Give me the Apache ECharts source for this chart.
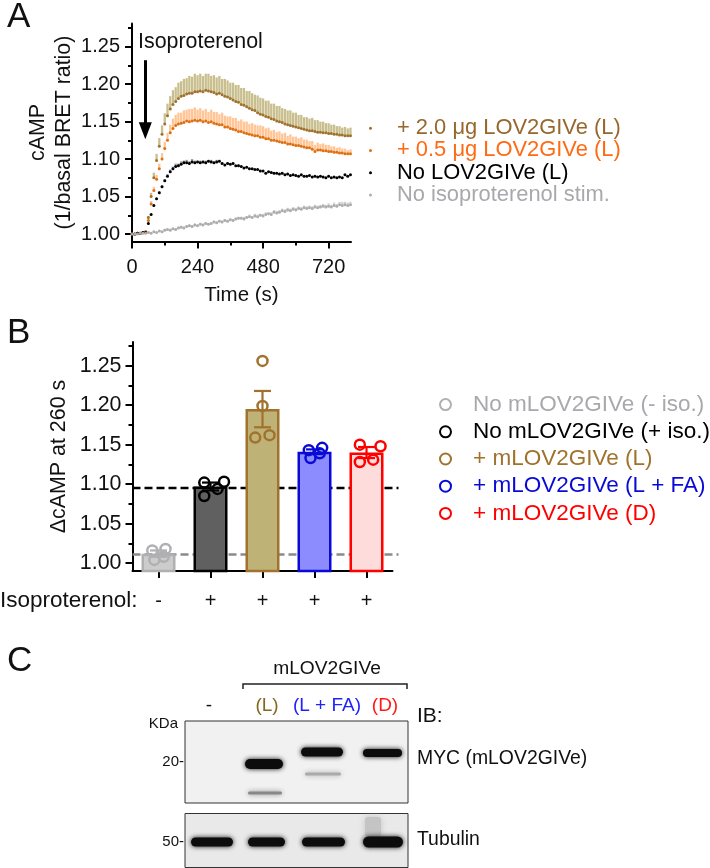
<!DOCTYPE html>
<html><head><meta charset="utf-8">
<style>html,body{margin:0;padding:0;background:#fff}#c{width:710px;height:868px}</style>
<script src="https://cdn.jsdelivr.net/npm/echarts@6/dist/echarts.min.js"></script></head>
<body><div id="c"></div>
<script>
const FONT='"Liberation Sans",Arial,sans-serif';
const times=[0,10,20,30,40,50,60,70,80,90,100,110,120,130,140,150,160,170,180,190,200,210,220,230,240,250,260,270,280,290,300,310,320,330,340,350,360,370,380,390,400,410,420,430,440,450,460,470,480,490,500,510,520,530,540,550,560,570,580,590,600,610,620,630,640,650,660,670,680,690,700,710,720,730,740,750,760,770,780,790,800];
const brownMean=[1.000,1.000,1.001,1.001,1.002,1.003,1.022,1.050,1.075,1.098,
1.117,1.133,1.147,1.158,1.167,1.173,1.177,1.181,1.184,1.185,
1.187,1.188,1.188,1.190,1.190,1.191,1.190,1.192,1.191,1.190,
1.189,1.187,1.188,1.186,1.184,1.183,1.181,1.179,1.177,1.176,
1.173,1.172,1.170,1.168,1.166,1.165,1.162,1.160,1.159,1.157,
1.156,1.154,1.153,1.151,1.150,1.149,1.147,1.146,1.145,1.144,
1.143,1.142,1.141,1.140,1.139,1.138,1.138,1.137,1.136,1.136,
1.135,1.135,1.134,1.134,1.133,1.133,1.132,1.132,1.131,1.131,1.131];
const brownErr=[0,0,0,0,0,0,.002,.005,.007,.009,
.011,.012,.014,.016,.017,.019,.019,.021,.020,.022,
.021,.023,.022,.024,.022,.023,.021,.022,.023,.021,
.023,.022,.023,.021,.023,.022,.021,.023,.022,.023,
.022,.023,.021,.023,.022,.021,.023,.022,.022,.021,
.022,.020,.021,.020,.021,.019,.020,.019,.020,.018,
.019,.017,.018,.016,.017,.016,.017,.015,.016,.014,
.015,.013,.014,.012,.013,.011,.012,.010,.012,.010,.011];
const orangeMean=[1.000,1.000,1.001,1.001,1.002,1.003,1.018,1.040,1.058,1.073,
1.087,1.100,1.114,1.125,1.135,1.141,1.145,1.147,1.148,1.149,
1.151,1.150,1.151,1.152,1.151,1.152,1.150,1.151,1.149,1.150,
1.148,1.147,1.146,1.146,1.143,1.143,1.141,1.140,1.139,1.137,
1.137,1.135,1.134,1.133,1.132,1.131,1.131,1.129,1.129,1.127,
1.127,1.125,1.125,1.124,1.123,1.122,1.122,1.120,1.120,1.119,
1.118,1.118,1.117,1.116,1.115,1.115,1.113,1.110,1.112,1.112,
1.111,1.111,1.110,1.110,1.109,1.109,1.108,1.108,1.107,1.107,1.107];
const orangeErr=[0,0,0,0,0,0,.002,.004,.005,.006,
.007,.008,.009,.010,.011,.013,.014,.015,.014,.016,
.015,.017,.016,.017,.015,.016,.015,.016,.014,.016,
.015,.016,.014,.016,.015,.014,.016,.015,.016,.014,
.016,.015,.016,.014,.016,.015,.014,.016,.015,.014,
.015,.013,.014,.012,.014,.012,.013,.011,.013,.011,
.012,.010,.012,.010,.011,.009,.011,.009,.010,.008,
.010,.008,.009,.007,.008,.006,.008,.006,.007,.005,.006];
const blackMean=[1.000,1.000,1.001,1.001,1.002,1.002,1.014,1.026,1.038,1.047,
1.055,1.063,1.071,1.077,1.083,1.087,1.090,1.091,1.093,1.095,
1.095,1.094,1.096,1.095,1.096,1.095,1.096,1.095,1.097,1.096,
1.095,1.096,1.097,1.094,1.092,1.094,1.093,1.094,1.091,1.091,
1.090,1.088,1.089,1.087,1.087,1.086,1.086,1.084,1.084,1.081,
1.083,1.082,1.081,1.081,1.080,1.081,1.079,1.080,1.078,1.079,
1.078,1.077,1.079,1.077,1.077,1.078,1.076,1.077,1.076,1.077,
1.076,1.075,1.077,1.075,1.076,1.075,1.076,1.075,1.079,1.077,1.079];
const blackErr=[0,0,0,0,0,0,0,.001,.001,.001,
.002,.002,.002,.003,.003,.003,.004,.003,.004,.003,
.004,.003,.004,.003,.002,.003,.002,.003,.002,.003,
.002,.003,.002,.002,.001,.002,.001,.002,.001,.002,
.001,.001,.001,.001,.001,.001,.001,.001,.001,.001,
.001,.001,.001,.001,.001,.001,.001,.001,.001,.001,
.001,.001,.001,.001,.001,.001,.001,.001,.001,.001,
.001,.001,.001,.001,.001,.001,.001,.001,.001,.001,.001];
const grayMean=[1.000,1.000,1.000,1.001,1.001,1.001,1.002,1.001,1.003,1.002,
1.004,1.003,1.005,1.006,1.005,1.007,1.006,1.008,1.009,1.008,
1.010,1.011,1.010,1.012,1.011,1.013,1.012,1.014,1.013,1.014,
1.016,1.015,1.017,1.016,1.018,1.017,1.019,1.018,1.020,1.021,
1.021,1.020,1.022,1.023,1.022,1.024,1.023,1.025,1.024,1.026,
1.027,1.026,1.029,1.028,1.029,1.031,1.030,1.032,1.031,1.033,
1.032,1.034,1.033,1.035,1.034,1.035,1.034,1.036,1.035,1.036,
1.037,1.036,1.037,1.036,1.038,1.037,1.039,1.038,1.039,1.038,1.039];
const grayErr=[0,0,0,.001,.001,.001,.001,.001,.001,.001,
.001,.001,.002,.001,.002,.001,.002,.002,.002,.002,
.002,.002,.002,.002,.002,.002,.002,.002,.002,.002,
.002,.002,.002,.002,.002,.002,.002,.002,.002,.002,
.002,.003,.002,.003,.002,.003,.003,.002,.003,.003,
.002,.003,.003,.003,.003,.003,.003,.003,.003,.003,
.003,.003,.003,.003,.003,.003,.003,.003,.003,.003,
.003,.003,.004,.003,.004,.003,.004,.005,.004,.004,.004];
const namesA=['+ 2.0 \u03bcg LOV2GIVe (L)','+ 0.5 \u03bcg LOV2GIVe (L)','No LOV2GIVe (L)','No isoproterenol stim.'];
const yTicks=[1.00,1.05,1.10,1.15,1.20,1.25];
const yMinorTicks=[1.025,1.075,1.125,1.175,1.225,1.275];
const xTicksA=[0,240,480,720];
const xMinorA=[120,360,600];

const categoriesB=['-','+','+','+','+'];
const namesB=['No mLOV2GIVe (- iso.)','No mLOV2GIVe (+ iso.)','+ mLOV2GIVe (L)','+ mLOV2GIVe (L + FA)','+ mLOV2GIVe (D)'];
const barMeans=[1.012,1.097,1.195,1.141,1.140];
const barErrs=[0.004,0.005,0.023,0.003,0.007];
const replicates=[[1.016,1.018,1.004,1.008],[1.102,1.103,1.085,1.094],[1.256,1.199,1.159,1.162],[1.143,1.146,1.133,1.139],[1.150,1.148,1.128,1.131]];
const jitter=[[-.12,.135,-.08,.10],[-.12,.26,-.12,.135],[0,0,-.14,.135],[-.11,.147,-.077,.10],[-.128,.27,-.128,.128]];
const refLines=[1.095,1.011];

const errColA=['#c9bf8e','#ffc596','#9a9a9a','#d4d4d4'];
const dotColA=['#a0722d','#dd7012','#000000','#adadad'];
const legColA=['#96682c','#ff6a13','#000000','#a9a9ad'];
const borderB=['#b0b0b3','#000000','#a0722d','#0a0ad6','#ff0000'];
const fillB=['#cccccc','#606060','#bfb277','#8c8cff','#ffdcdc'];
const legColB=['#a9a9ad','#000000','#a0722d','#0a0ad6','#ff0000'];
const refCol=['#000000','#8a8a8a'];

function errSeriesA(means,errs,col){
  return {type:'custom',xAxisIndex:0,yAxisIndex:0,z:2,silent:true,
    data:times.map((t,i)=>[t,means[i],means[i]+errs[i]]),
    encode:{x:0,y:[1,2]},
    renderItem(p,api){const a=api.coord([api.value(0),api.value(1)]),b=api.coord([api.value(0),api.value(2)]);
      return {type:'line',shape:{x1:a[0],y1:a[1],x2:b[0],y2:b[1]},style:{stroke:col,lineWidth:2.3}};}};
}
const seriesA=[];
[[brownMean,brownErr],[orangeMean,orangeErr],[blackMean,blackErr],[grayMean,grayErr]].forEach((d,i)=>{
  seriesA.push(errSeriesA(d[0],d[1],errColA[i]));
});
[0,1,2,3].forEach(i=>{
  const m=[brownMean,orangeMean,blackMean,grayMean][i];
  seriesA.push({type:'scatter',name:namesA[i],xAxisIndex:0,yAxisIndex:0,z:3,symbol:'circle',symbolSize:3,
    itemStyle:{color:dotColA[i],opacity:1},data:times.map((t,k)=>[t,m[k]])});
});
seriesA.push({type:'scatter',xAxisIndex:0,yAxisIndex:0,data:[],silent:true,
  markLine:{silent:true,animation:false,symbol:['none','triangle'],symbolSize:[13,17],label:{show:false},
    lineStyle:{color:'#000',width:3,type:'solid'},
    data:[[{coord:[48.7,1.232]},{coord:[48.7,1.138]}]]}});

const seriesB=[
 ...refLines.map((v,i)=>({type:'line',xAxisIndex:4,yAxisIndex:4,z:1,silent:true,showSymbol:false,
   lineStyle:{color:refCol[i],width:2.5,type:[8,4]},data:[[0,v],[1,v]]})),
 {type:'bar',xAxisIndex:2,yAxisIndex:2,z:2,barWidth:34,silent:true,
  data:barMeans.map((v,i)=>({value:v,itemStyle:{color:fillB[i],borderColor:borderB[i],borderWidth:2.5}}))},
 {type:'custom',xAxisIndex:3,yAxisIndex:2,z:3,silent:true,
  data:barMeans.map((v,i)=>[i+.5,v-barErrs[i],v+barErrs[i],i]),encode:{x:0,y:[1,2]},
  renderItem(p,api){const x=api.value(0),col=borderB[api.value(3)],a=api.coord([x,api.value(1)]),b=api.coord([x,api.value(2)]),w=8.5;
    const st={stroke:col,lineWidth:2.2};
    return {type:'group',children:[
     {type:'line',shape:{x1:a[0],y1:a[1],x2:b[0],y2:b[1]},style:st},
     {type:'line',shape:{x1:a[0]-w,y1:a[1],x2:a[0]+w,y2:a[1]},style:st},
     {type:'line',shape:{x1:b[0]-w,y1:b[1],x2:b[0]+w,y2:b[1]},style:st}]};}}
];
namesB.forEach((n,i)=>seriesB.push({type:'scatter',name:n,xAxisIndex:3,yAxisIndex:2,z:4,symbol:'circle',symbolSize:10,silent:true,
  itemStyle:{color:'rgba(0,0,0,0)',borderColor:borderB[i],borderWidth:2.5,opacity:1},
  data:replicates[i].map((v,k)=>[i+.5+jitter[i][k],v])}));

const axLine={show:true,onZero:false,lineStyle:{color:'#000',width:2}};
const tickStyle=(len)=>({length:len,lineStyle:{color:'#000',width:2}});
function yMain(gridIndex,fs,nameTxt,gap,min,max,margin){return {type:'value',gridIndex,min,max,position:'left',name:nameTxt,nameLocation:'middle',nameRotate:90,nameGap:gap,
  nameTextStyle:{fontFamily:FONT,fontSize:21.4,color:'#111',lineHeight:26},splitLine:{show:false},axisLine:axLine,
  axisTick:Object.assign({show:true,customValues:yTicks},tickStyle(7)),
  axisLabel:{customValues:yTicks,margin,fontFamily:FONT,fontSize:fs,color:'#111',formatter:v=>v.toFixed(2)}};}
function yMinor(gridIndex,min,max){return {type:'value',gridIndex,min,max,position:'left',splitLine:{show:false},axisLine:{show:false},
  axisTick:Object.assign({show:true,customValues:yMinorTicks},tickStyle(4)),axisLabel:{show:false}};}

const T=(text,x,y,fs,col,align,extra)=>({type:'text',x,y,silent:true,style:Object.assign({text,fill:col||'#111',font:`${fs}px ${FONT}`,textAlign:align||'left',textVerticalAlign:'middle'},extra||{})});
const R=(x,y,w,h,fill,blur,r)=>({type:'rect',silent:true,shape:{x,y,width:w,height:h,r:r==null?h/2:r},style:{fill,shadowBlur:blur||0,shadowColor:fill}});
const graphic=[
 T('A',7,17,35),T('B',7,333,35),T('C',7,661,35),
 T('Isoproterenol',138,42,21.4),
 T('Isoproterenol:',0,601,22.5),
 T('mLOV2GIVe',327,669,19.2,'#111','center'),
 {type:'polyline',silent:true,shape:{points:[[243,689],[243,684],[407,684],[407,689]]},style:{stroke:'#222',lineWidth:1.5,fill:'none'}},
 T('-',209,706,19,'#111','center'),
 T('(L)',267,706,19,'#86691f','center'),
 T('(L + FA)',327,706,19,'#2222ff','center'),
 T('(D)',385,706,19,'#ff1a1a','center'),
 T('IB:',417,716,21),
 T('KDa',178,724,15,'#111','right'),
 T('20-',184,762,15,'#111','right'),
 T('50-',184,842,15,'#111','right'),
 T('MYC (mLOV2GIVe)',417,759,19.4),
 T('Tubulin',417,840,19.4),
 {type:'rect',silent:true,shape:{x:185,y:721,width:223,height:82},style:{fill:'#f1f1f1',stroke:'#333',lineWidth:1}},
 {type:'rect',silent:true,shape:{x:185,y:813.5,width:223,height:54},style:{fill:'#e9e9e9',stroke:'#333',lineWidth:1}},
 R(245,759,38,10,'#0c0c0c',5),
 R(248,791.5,34,3,'#888888',5),
 R(301,747.5,42,9,'#0c0c0c',5),
 R(305,772.5,36,3,'#aaaaaa',5),
 R(363,749,39,8,'#0c0c0c',5),
 R(365,817,16,20,'#c4c4c4',6,3),
 R(191,837.5,42,9,'#0c0c0c',5),
 R(248,837.5,37,9,'#0c0c0c',5),
 R(302,837.5,43,9,'#0c0c0c',5),
 R(363,836.5,40,11,'#0c0c0c',5)
];

const option={animation:false,backgroundColor:'#fff',textStyle:{fontFamily:FONT},
 grid:[{left:132,top:23.5,width:219,height:218},{left:132.5,top:342,width:260,height:229},{left:132.5,top:342,width:266,height:229}],
 xAxis:[
  {type:'value',gridIndex:0,min:0,max:802,position:'bottom',name:'Time (s)',nameLocation:'middle',nameGap:43,
   nameTextStyle:{fontFamily:FONT,fontSize:20.5,color:'#111'},splitLine:{show:false},axisLine:axLine,
   axisTick:Object.assign({show:true,customValues:xTicksA},tickStyle(7)),
   axisLabel:{customValues:xTicksA,margin:15.5,fontFamily:FONT,fontSize:20,color:'#111'}},
  {type:'value',gridIndex:0,min:0,max:802,position:'bottom',splitLine:{show:false},axisLine:{show:false},
   axisTick:Object.assign({show:true,customValues:xMinorA},tickStyle(4)),axisLabel:{show:false}},
  {type:'category',gridIndex:1,data:categoriesB,position:'bottom',axisLine:axLine,
   axisTick:Object.assign({show:true,alignWithLabel:true},tickStyle(7)),
   axisLabel:{margin:20,interval:0,fontFamily:FONT,fontSize:20,color:'#111'}},
  {type:'value',gridIndex:1,min:0,max:5,show:false,splitLine:{show:false}},
  {type:'value',gridIndex:2,min:0,max:1,show:false,splitLine:{show:false}}
 ],
 yAxis:[
  yMain(0,20,'cAMP\n(1/basal BRET ratio)',54,0.99,1.281,12),
  yMinor(0,0.99,1.281),
  yMain(1,21.4,'\u0394cAMP at 260 s',60,0.99,1.28,11),
  yMinor(1,0.99,1.28),
  {type:'value',gridIndex:2,min:0.99,max:1.28,show:false,splitLine:{show:false}}
 ],
 legend:[
  {show:true,orient:'vertical',left:369,top:117,padding:0,itemWidth:3,itemHeight:3,itemGap:0,selectedMode:false,icon:'circle',
   textStyle:{fontFamily:FONT,fontSize:21.9,lineHeight:22.3,padding:[0,0,0,20]},
   data:namesA.map((n,i)=>({name:n,textStyle:{color:legColA[i]}}))},
  {show:true,orient:'vertical',left:439,top:391,padding:0,itemWidth:11,itemHeight:11,itemGap:0,selectedMode:false,icon:'circle',
   textStyle:{fontFamily:FONT,fontSize:22.5,lineHeight:27.2,padding:[0,0,0,17]},
   data:namesB.map((n,i)=>({name:n,textStyle:{color:legColB[i]}}))}
 ],
 series:seriesA.concat(seriesB),
 graphic:{elements:graphic}
};
echarts.init(document.getElementById('c'),null,{renderer:'canvas'}).setOption(option);
</script></body></html>
